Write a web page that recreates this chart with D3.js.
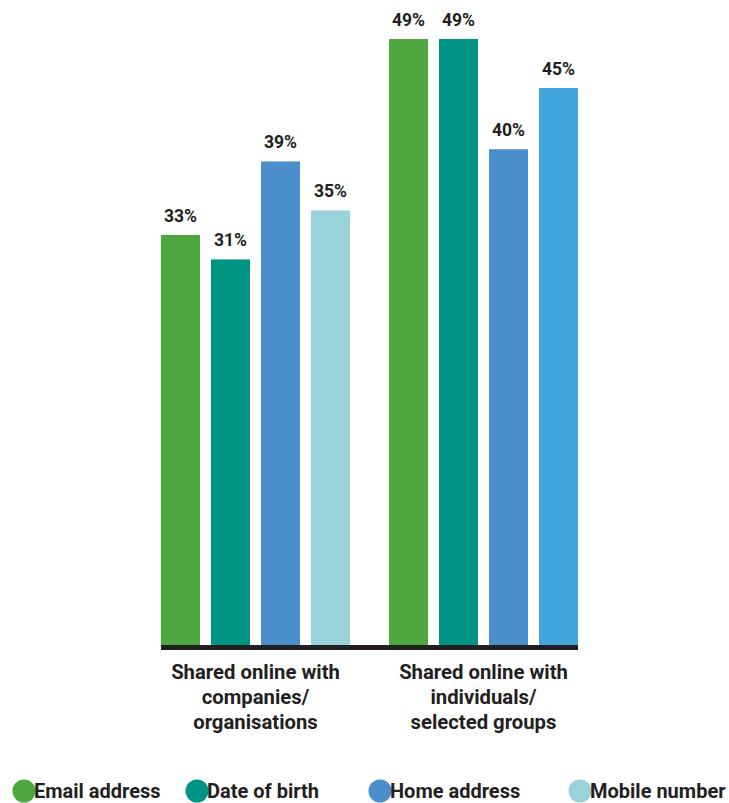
<!DOCTYPE html>
<html><head><meta charset="utf-8">
<script src="https://cdn.jsdelivr.net/npm/d3@7"></script>
<style>body{margin:0;background:#fff}svg{display:block}</style>
</head><body><svg id="c" width="729" height="803"></svg>
<script>
const groups = ["Shared online with companies/ organisations", "Shared online with individuals/ selected groups"];
const groupLines = [["Shared online with","companies/","organisations"],["Shared online with","individuals/","selected groups"]];
const series = ["Email address","Date of birth","Home address","Mobile number"];
const values = [[33,31,39,35],[49,49,40,45]];
const colors = [["#4ea83f","#009485","#4a8ecb","#9ad2da"],["#4ea83f","#009485","#4a8ecb","#42a5dd"]];
const legendColors = ["#4ea83f","#009485","#4a8ecb","#9ad2da"];

const svg = d3.select("#c");
const font = "Roboto, 'Open Sans', sans-serif";
const base = 647;
const y = d3.scaleLinear().domain([0,49]).range([639,39]);
const x0 = d3.scaleBand().domain(d3.range(groups.length)).range([161,578]).paddingInner(39/228);
const x1 = d3.scaleBand().domain(d3.range(series.length)).range([0,x0.bandwidth()]).paddingInner(0.22);

groups.forEach((g,gi)=>{
  const gg = svg.append("g").attr("transform",`translate(${x0(gi)},0)`);
  gg.selectAll("rect").data(values[gi]).join("rect")
    .attr("x",(d,i)=>x1(i)).attr("width",x1.bandwidth())
    .attr("y",d=>y(d)).attr("height",d=>base-y(d))
    .attr("fill",(d,i)=>colors[gi][i]);
  gg.selectAll("text").data(values[gi]).join("text")
    .attr("x",(d,i)=>x1(i)+x1.bandwidth()/2).attr("y",d=>y(d)-13)
    .attr("text-anchor","middle").attr("font-family",font).attr("font-weight",700)
    .attr("font-size",17.5).attr("fill","#231f20").text(d=>d+"%");
  const t = svg.append("text").attr("x",x0(gi)+x0.bandwidth()/2).attr("y",679)
    .attr("text-anchor","middle").attr("font-family",font).attr("font-weight",700)
    .attr("font-size",20.3).attr("fill","#231f20");
  groupLines[gi].forEach((l,li)=>t.append("tspan").attr("x",x0(gi)+x0.bandwidth()/2).attr("dy",li?25:0).text(l));
});

svg.append("line").attr("x1",161).attr("x2",578).attr("y1",647.5).attr("y2",647.5)
  .attr("stroke","#231f20").attr("stroke-width",5);

const legX = [24,197,380,580];
series.forEach((s,i)=>{
  svg.append("circle").attr("cx",legX[i]).attr("cy",791).attr("r",11.5).attr("fill",legendColors[i]);
  svg.append("text").attr("x",legX[i]+10).attr("y",798).attr("font-family",font).attr("font-weight",700)
    .attr("font-size",20).attr("fill","#231f20").text(s);
});
</script></body></html>
